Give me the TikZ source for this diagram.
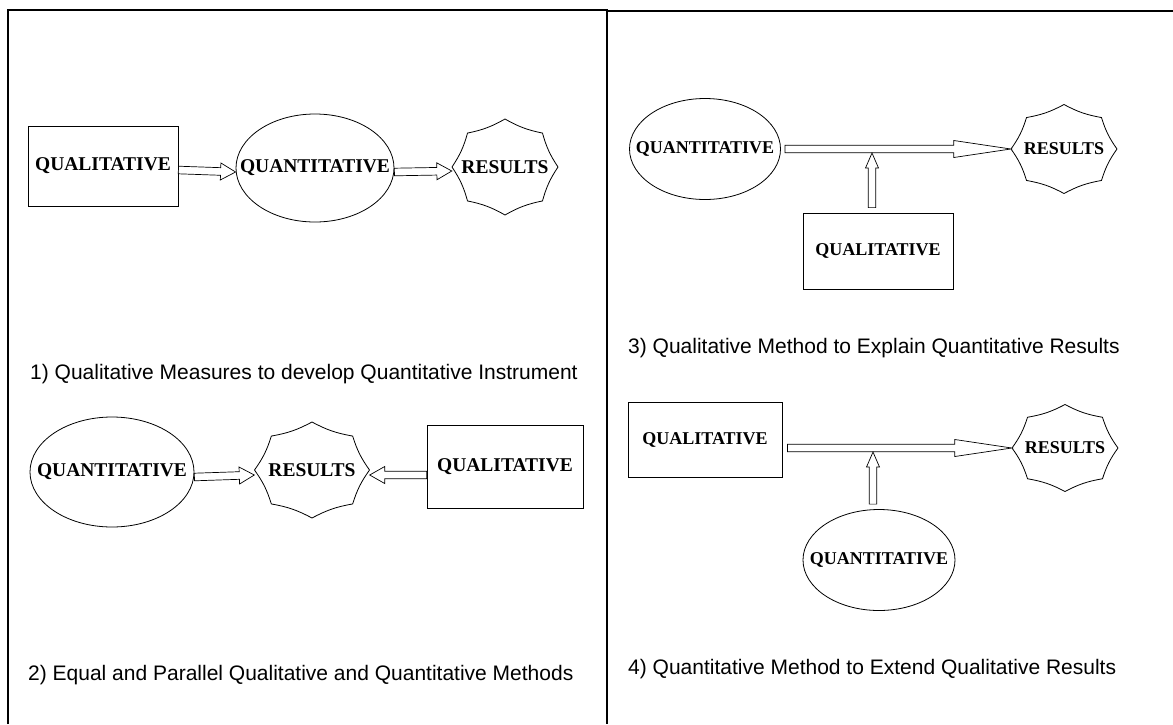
\documentclass[tikz,border=0pt]{standalone}
\usepackage{fontspec}
\setmainfont{Liberation Serif}
\newfontfamily\capfont{Liberation Sans}
\usetikzlibrary{calc,shapes.geometric}
\newcommand\shw{3.8pt}
\newcommand\sealat[3]{% seal outline round a node: name, half width, half height
  \draw[sealline] ([shift={(#1)}]0:#2 and #3)
    \foreach \k in {1,...,8}{ to[bend left=9] ([shift={(#1)}]\k*45:#2 and #3)};}
\tikzset{
  frame/.style={black,line width=2pt},
  lbl/.style={font=\bfseries\fontsize{19.5}{22}\selectfont},
  lbls/.style={font=\bfseries\fontsize{18}{21}\selectfont},
  box/.style={draw,line width=0.8pt,inner sep=0pt},
  oval/.style={box,ellipse,inner xsep=-30pt,inner ysep=0pt},
  seal/.style={inner sep=0pt},
  sealline/.style={line width=0.8pt},
  capt/.style={anchor=base west,inner sep=0pt,font=\capfont\fontsize{21}{25}\selectfont},
  hlen/.store in=\hlen, hlen=15pt,
  hw/.store in=\hhw, hw=8.5pt,
  blk/.style={draw,fill=white,line width=0.7pt,
    to path={let \p1=($(\tikztotarget)-(\tikztostart)$),
      \n1={veclen(\x1,\y1)}, \n2={atan2(\y1,\x1)} in
      ([shift={(\tikztostart)},rotate=\n2]0pt,\shw)
      -- ([shift={(\tikztostart)},rotate=\n2]{\n1*1pt-\hlen},\shw)
      -- ([shift={(\tikztostart)},rotate=\n2]{\n1*1pt-\hlen},\hhw)
      -- (\tikztotarget)
      -- ([shift={(\tikztostart)},rotate=\n2]{\n1*1pt-\hlen},-\hhw)
      -- ([shift={(\tikztostart)},rotate=\n2]{\n1*1pt-\hlen},-\shw)
      -- ([shift={(\tikztostart)},rotate=\n2]0pt,-\shw) -- cycle}},
}
\begin{document}
\begin{tikzpicture}[x=1pt,y=-1pt]
  \useasboundingbox (0,0) rectangle (1173,724);
  \draw[frame] (8,724) -- (8,10) -- (607,10) -- (607,724);
  \draw[frame] (607,11) -- (1173,11);
  % 1) qualitative first
  \node[box,lbl,minimum width=150pt,minimum height=80pt] (q1) at (103,166) {QUALITATIVE};
  \node[oval,lbl,minimum width=158pt,minimum height=108pt] (n1) at (315,168) {QUANTITATIVE};
  \node[seal,lbl,minimum width=106pt,minimum height=96pt] (r1) at (505,167) {RESULTS};
  \sealat{r1}{53pt}{48pt}
  \draw[blk] ([yshift=-4pt]q1.east) to ([yshift=-4pt]n1.west);
  \draw[blk] ([yshift=-4pt]n1.east) to ([yshift=-4pt]r1.west);
  \node[capt] (c1) at (30,379) {1) Qualitative Measures to develop Quantitative Instrument};
  % 2) equal and parallel
  \node[oval,lbl,minimum width=164pt,minimum height=110pt] (n2) at (112,472) {QUANTITATIVE};
  \node[seal,lbl,minimum width=115pt,minimum height=96pt] (r2) at (312,470) {RESULTS};
  \sealat{r2}{57.5pt}{48pt}
  \node[box,lbl,minimum width=156pt,minimum height=83pt] (q2) at (505,467) {QUALITATIVE};
  \draw[blk] ([yshift=-5pt]n2.east) to ([yshift=-5pt]r2.west);
  \draw[blk] ([yshift=-8pt]q2.west) to ([yshift=-5pt]r2.east);
  \node[capt] (c2) at (28,680) {2) Equal and Parallel Qualitative and Quantitative Methods};
  % 3) qualitative explains
  \node[oval,lbls,minimum width=151pt,minimum height=101pt] (n3) at (705,149) {QUANTITATIVE};
  \node[seal,lbls,minimum width=106pt,minimum height=89pt] (r3) at (1064,149) {RESULTS};
  \sealat{r3}{53pt}{44.5pt}
  \node[box,lbls,minimum width=150pt,minimum height=76pt] (q3) at (878,251) {QUALITATIVE};
  \coordinate (j3) at ($(q3.north |- n3.east)+(-6,4)$);
  \draw[blk,hlen=57pt] ([xshift=4pt]n3.east) to (r3.west);
  \draw[blk,hw=6.5pt] ([xshift=-6pt,yshift=5pt]q3.north) to (j3);
  \node[capt] (c3) at (628,353) {3) Qualitative Method to Explain Quantitative Results};
  % 4) quantitative extends
  \node[box,lbls,minimum width=154pt,minimum height=75pt] (q4) at (705,440) {QUALITATIVE};
  \node[seal,lbls,minimum width=106pt,minimum height=87pt] (r4) at (1065,448) {RESULTS};
  \sealat{r4}{53pt}{43.5pt}
  \node[oval,lbls,minimum width=152pt,minimum height=101pt] (n4) at (879,560) {QUANTITATIVE};
  \coordinate (j4) at ($(q4.east -| n4.north)+(-6,12)$);
  \draw[blk,hlen=57pt] ([xshift=5pt,yshift=-8pt]q4.east) to (r4.west);
  \draw[blk,hw=6.5pt] ([xshift=-6pt,yshift=5pt]n4.north) to (j4);
  \node[capt] (c4) at (628,674) {4) Quantitative Method to Extend Qualitative Results};
\end{tikzpicture}
\end{document}
